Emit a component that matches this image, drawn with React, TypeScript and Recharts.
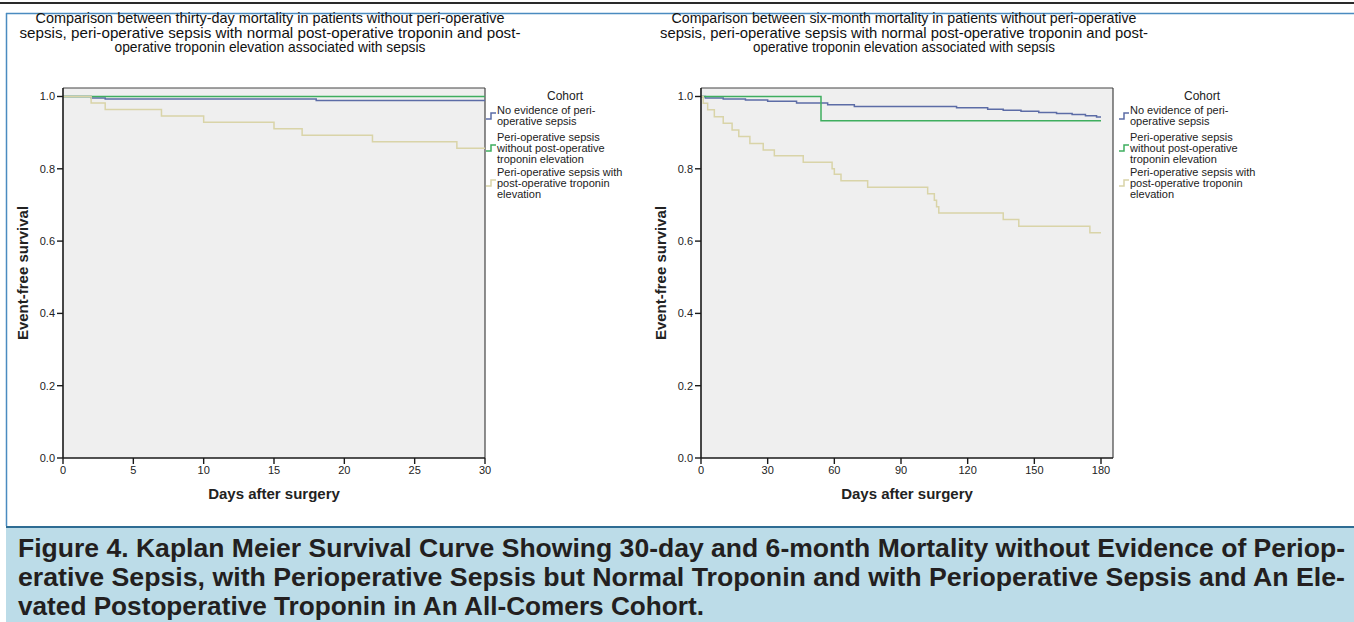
import React from "react";
import { CartesianGrid, Label, Line, LineChart, ReferenceLine, XAxis, YAxis } from "recharts";

// ---- data ----
const survivalTicks = [0, 0.2, 0.4, 0.6, 0.8, 1.0];
const days30Ticks = [0, 5, 10, 15, 20, 25, 30];
const days180Ticks = [0, 30, 60, 90, 120, 150, 180];

// thirty-day curves
const noSepsisDays30 = [0, 2, 3, 18, 30];
const noSepsisSurv30 = [1, 0.996, 0.993, 0.989, 0.989];
const sepsisNormalDays30 = [0, 30];
const sepsisNormalSurv30 = [1, 1];
const sepsisTropDays30 = [0, 2, 3, 7, 10, 15, 17, 22, 28, 30];
const sepsisTropSurv30 = [1, 0.982, 0.964, 0.946, 0.929, 0.911, 0.893, 0.875, 0.857, 0.857];

// six-month curves
const noSepsisDays180 = [0, 2, 10, 20, 30, 43, 57, 69, 115, 129, 136, 144, 152, 160, 167, 173, 178, 180];
const noSepsisSurv180 = [1, 0.996, 0.993, 0.99, 0.987, 0.982, 0.977, 0.972, 0.969, 0.965, 0.962, 0.959, 0.956, 0.953, 0.95, 0.947, 0.943, 0.943];
const sepsisNormalDays180 = [0, 54, 180];
const sepsisNormalSurv180 = [1, 0.933, 0.933];
const sepsisTropDays180 = [0, 1, 3, 6, 10, 14, 17, 22, 28, 33, 46, 59, 60, 63, 75, 102, 105, 106, 107, 136, 143, 175, 180];
const sepsisTropSurv180 = [1, 0.981, 0.963, 0.944, 0.926, 0.907, 0.889, 0.87, 0.852, 0.836, 0.818, 0.8, 0.785, 0.767, 0.749, 0.731, 0.713, 0.695, 0.678, 0.66, 0.641, 0.623, 0.623];

const cohortLabels = [
  ["No evidence of peri-", "operative sepsis"],
  ["Peri-operative sepsis", "without post-operative", "troponin elevation"],
  ["Peri-operative sepsis with", "post-operative troponin", "elevation"],
];
const cohortColors = ["#5c6ca6", "#3fae5f", "#d9d4a8"];

const title30 = [
  "Comparison between thirty-day mortality in patients without peri-operative",
  "sepsis, peri-operative sepsis with normal post-operative troponin and post-",
  "operative troponin elevation associated with sepsis",
];
const title180 = [
  "Comparison between six-month mortality in patients without peri-operative",
  "sepsis, peri-operative sepsis with normal post-operative troponin and post-",
  "operative troponin elevation associated with sepsis",
];
const caption = [
  "Figure 4. Kaplan Meier Survival Curve Showing 30-day and 6-month Mortality without Evidence of Periop-",
  "erative Sepsis, with Perioperative Sepsis but Normal Troponin and with Perioperative Sepsis and An Ele-",
  "vated Postoperative Troponin in An All-Comers Cohort.",
];

const FONT = '"Liberation Sans", Arial, sans-serif';
const Y_TOP = 1.0235;

const pts = (days: number[], surv: number[]) => days.map((d, i) => ({ day: d, surv: surv[i] }));

type ChartProps = {
  left: number;
  width: number;
  plotLeft: number;
  plotRight: number;
  xMax: number;
  xTicks: number[];
  series: { day: number; surv: number }[][];
};

const KMChart = ({ left, width, plotLeft, plotRight, xMax, xTicks, series }: ChartProps) => {
  const yAxisW = 55;
  const marginLeft = plotLeft - left - yAxisW;
  const marginRight = left + width - plotRight;
  return (
    <div style={{ position: "absolute", left, top: 0 }}>
      <LineChart width={width} height={520} margin={{ top: 88, right: marginRight, bottom: 18, left: marginLeft }}>
        <CartesianGrid fill="#efefef" horizontal={false} vertical={false} stroke="none" />
        <XAxis
          dataKey="day"
          type="number"
          domain={[0, xMax]}
          ticks={xTicks}
          allowDataOverflow
          height={44}
          tickSize={6}
          tickMargin={2}
          axisLine={{ stroke: "#1a1a1a", strokeWidth: 1.6 }}
          tickLine={{ stroke: "#1a1a1a", strokeWidth: 1.4 }}
          tick={{ fontSize: 11, fill: "#222", fontFamily: FONT }}
        >
          <Label
            content={(p: any) => {
              const vb = p.viewBox || { x: 0, y: 0, width: 0 };
              return (
                <text
                  x={vb.x + vb.width / 2}
                  y={vb.y + 41}
                  textAnchor="middle"
                  fontFamily={FONT}
                  fontWeight={700}
                  fontSize={15}
                  fill="#222"
                >
                  Days after surgery
                </text>
              );
            }}
          />
        </XAxis>
        <YAxis
          dataKey="surv"
          type="number"
          domain={[0, Y_TOP]}
          ticks={survivalTicks}
          allowDataOverflow
          width={yAxisW}
          tickSize={6}
          tickMargin={2}
          tickFormatter={(v: number) => v.toFixed(1)}
          axisLine={{ stroke: "#1a1a1a", strokeWidth: 1.6 }}
          tickLine={{ stroke: "#1a1a1a", strokeWidth: 1.4 }}
          tick={{ fontSize: 11, fill: "#222", fontFamily: FONT }}
        >
          <Label
            content={(p: any) => {
              const vb = p.viewBox || { x: 0, y: 0, height: 0 };
              const cx = vb.x + 14;
              const cy = vb.y + vb.height / 2;
              return (
                <text
                  x={cx}
                  y={cy}
                  transform={`rotate(-90, ${cx}, ${cy})`}
                  textAnchor="middle"
                  dominantBaseline="central"
                  fontFamily={FONT}
                  fontWeight={700}
                  fontSize={15}
                  fill="#222"
                >
                  Event-free survival
                </text>
              );
            }}
          />
        </YAxis>
        <ReferenceLine y={Y_TOP} stroke="#444" strokeWidth={1.2} />
        <ReferenceLine x={xMax} stroke="#444" strokeWidth={1.2} />
        {series.map((data, i) => (
          <Line
            key={i}
            data={data}
            dataKey="surv"
            type="stepAfter"
            stroke={cohortColors[i]}
            strokeWidth={1.5}
            dot={false}
            activeDot={false}
            isAnimationActive={false}
          />
        ))}
      </LineChart>
    </div>
  );
};

const Title = ({ cx, lines, widths }: { cx: number; lines: string[]; widths: number[] }) => (
  <g>
    {lines.map((t, i) => (
      <text
        key={i}
        x={cx}
        y={23 + i * 14.5}
        textAnchor="middle"
        fontSize={14.5}
        fontFamily={FONT}
        fill="#111"
        textLength={widths[i]}
        lengthAdjust="spacingAndGlyphs"
      >
        {t}
      </text>
    ))}
  </g>
);

const CohortLegend = ({ x, cohortX }: { x: number; cohortX: number }) => {
  const entryTops = [110, 137, 172];
  return (
    <g fontFamily={FONT}>
      <text x={cohortX} y={100} textAnchor="middle" fontSize={12} fill="#222">
        Cohort
      </text>
      {cohortLabels.map((lines, i) => {
        const cy = i === 0 ? 116 : entryTops[i] + 11;
        return (
          <g key={i}>
            <path
              d={`M${x},${cy + 3} H${x + 5} V${cy - 3} H${x + 10}`}
              fill="none"
              stroke={cohortColors[i]}
              strokeWidth={1.5}
            />
            {lines.map((t, j) => (
              <text key={j} x={x + 11} y={entryTops[i] + 4 + j * 11} fontSize={11} fill="#222">
                {t}
              </text>
            ))}
          </g>
        );
      })}
    </g>
  );
};

export default function App() {
  return (
    <div
      style={{
        position: "absolute",
        left: 0,
        top: 0,
        width: 1354,
        height: 622,
        overflow: "hidden",
        background: "#fff",
      }}
    >
      <svg width={1354} height={622} style={{ position: "absolute", left: 0, top: 0 }}>
        <rect x={0} y={2} width={1354} height={2} fill="#2a2a2a" />
        <line x1={6.5} y1={13} x2={6.5} y2={526} stroke="#4a8bc0" strokeWidth={1.5} />
        <line x1={6} y1={13.5} x2={1354} y2={13.5} stroke="#4a8bc0" strokeWidth={1.5} />
        <rect x={6} y={526} width={1348} height={96} fill="#bcdce8" />
        <line x1={6} y1={527} x2={1354} y2={527} stroke="#2e6c93" strokeWidth={2} />
      </svg>

      <KMChart
        left={0}
        width={640}
        plotLeft={63}
        plotRight={485}
        xMax={30}
        xTicks={days30Ticks}
        series={[
          pts(noSepsisDays30, noSepsisSurv30),
          pts(sepsisNormalDays30, sepsisNormalSurv30),
          pts(sepsisTropDays30, sepsisTropSurv30),
        ]}
      />
      <KMChart
        left={640}
        width={714}
        plotLeft={701}
        plotRight={1113}
        xMax={185.4}
        xTicks={days180Ticks}
        series={[
          pts(noSepsisDays180, noSepsisSurv180),
          pts(sepsisNormalDays180, sepsisNormalSurv180),
          pts(sepsisTropDays180, sepsisTropSurv180),
        ]}
      />

      <svg width={1354} height={622} style={{ position: "absolute", left: 0, top: 0, pointerEvents: "none" }}>
        <Title cx={270} lines={title30} widths={[469, 501, 311]} />
        <Title cx={904} lines={title180} widths={[465, 488, 302]} />
        <CohortLegend x={486} cohortX={565} />
        <CohortLegend x={1119} cohortX={1202} />
        <g fontFamily={FONT} fontWeight={700} fontSize={26} fill="#231f20">
          <text x={18} y={557} textLength={1327} lengthAdjust="spacingAndGlyphs">
            {caption[0]}
          </text>
          <text x={18} y={586} textLength={1327} lengthAdjust="spacingAndGlyphs">
            {caption[1]}
          </text>
          <text x={18} y={615} textLength={686} lengthAdjust="spacingAndGlyphs">
            {caption[2]}
          </text>
        </g>
      </svg>
    </div>
  );
}
